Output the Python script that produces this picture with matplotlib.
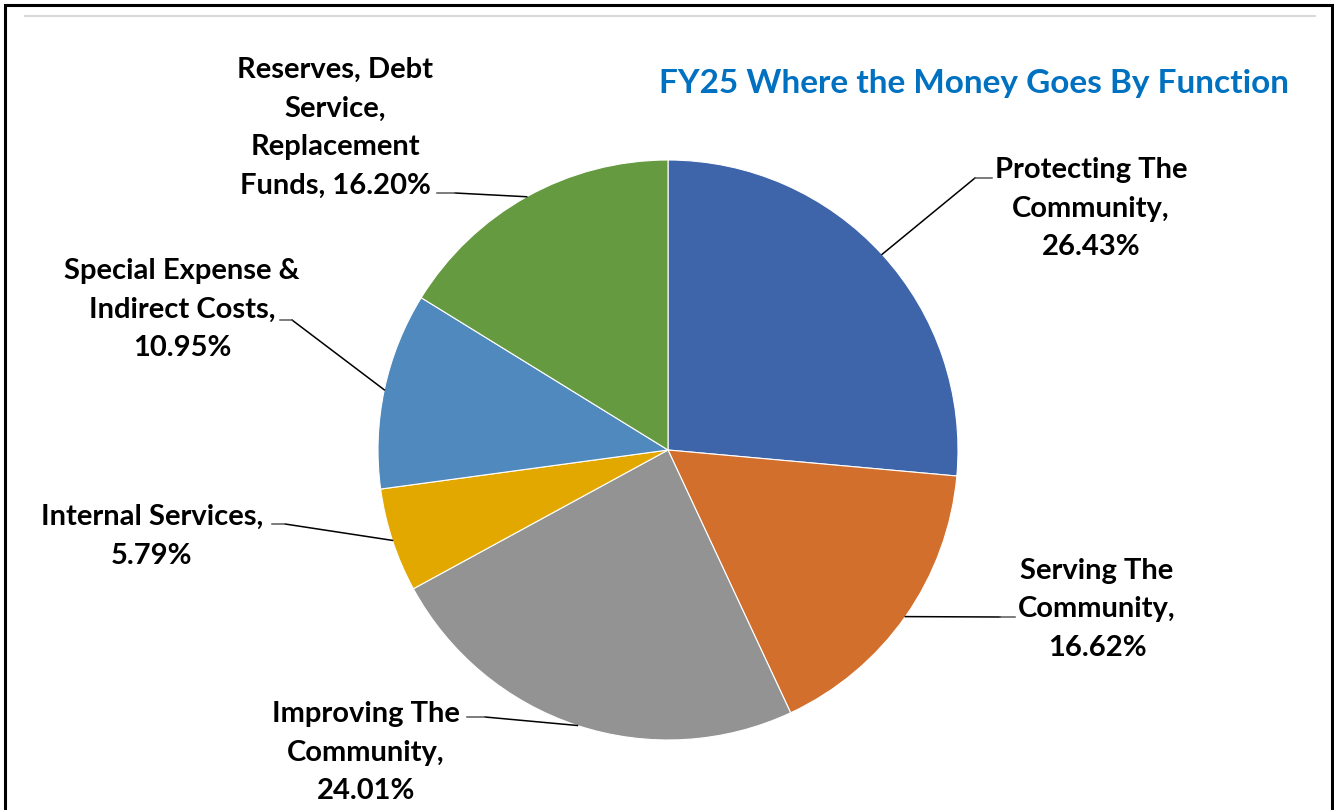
import matplotlib.pyplot as plt
import numpy as np
from matplotlib.patches import Rectangle

# Data
categories = [
    "Protecting The\nCommunity",
    "Serving The\nCommunity",
    "Improving The\nCommunity",
    "Internal Services",
    "Special Expense &\nIndirect Costs",
    "Reserves, Debt\nService,\nReplacement\nFunds",
]
shares = [26.43, 16.62, 24.01, 5.79, 10.95, 16.20]
colors = ["#3E64AA", "#D36F2C", "#939393", "#E3A800", "#4F89BD", "#659A41"]
title = "FY25 Where the Money Goes By Function"

W, H = 1334, 810
FONT = "Lato"


def main():
    fig = plt.figure(figsize=(W / 100, H / 100), dpi=100)
    ax = fig.add_axes([0, 0, 1, 1])

    cx, cy, r = 668, H - 450, 290
    wedges, _ = ax.pie(
        shares,
        colors=colors,
        startangle=90,
        counterclock=False,
        center=(cx, cy),
        radius=r,
        wedgeprops=dict(edgecolor="white", linewidth=0.8),
    )
    ax.set_xlim(0, W)
    ax.set_ylim(0, H)
    ax.set_aspect("equal")
    ax.axis("off")

    # label layout: (text centre x, first line y, elbow, end of leader) in pixels from top
    layout = [
        (1091, 170, (975, 178), (992, 178), ",\n"),
        (1097, 571, (1000, 617), (1015, 617), ",\n"),
        (366, 714, (485, 717), (467, 717), ",\n"),
        (152, 517, (285, 524), (272, 524), ",\n"),
        (182, 271, (292, 320), (280, 320), ",\n"),
        (335, 70, (455, 193), (437, 193), ", "),
    ]
    for w, name, val, (tx, ty, elbow, end, sep) in zip(wedges, categories, shares, layout):
        mid = np.deg2rad((w.theta1 + w.theta2) / 2)
        ax_pt = (cx + r * np.cos(mid), cy + r * np.sin(mid))
        ax.plot([ax_pt[0], elbow[0]], [ax_pt[1], H - elbow[1]], color="black", lw=1.1)
        ax.plot([elbow[0], end[0]], [H - elbow[1], H - end[1]], color="#595959", lw=1.1)
        label = f"{name}{sep}{val:.2f}%"
        for i, line in enumerate(label.split("\n")):
            ax.text(tx, H - (ty + 38.5 * i), line, ha="center", va="center",
                    fontsize=21, fontweight="bold", family=FONT, color="black")

    ax.text(974, H - 83, title, ha="center", va="center", fontsize=24,
            fontweight="bold", family=FONT, color="#0070C0")

    # frame and top rule
    ax.add_patch(Rectangle((5, -20), 1327, H - 5 + 20, fill=False, edgecolor="black", lw=2.2))
    ax.plot([25, 1315], [H - 16, H - 16], color="#D9D9D9", lw=1.5)

    fig.savefig("out.png", dpi=100)


if __name__ == "__main__":
    main()
